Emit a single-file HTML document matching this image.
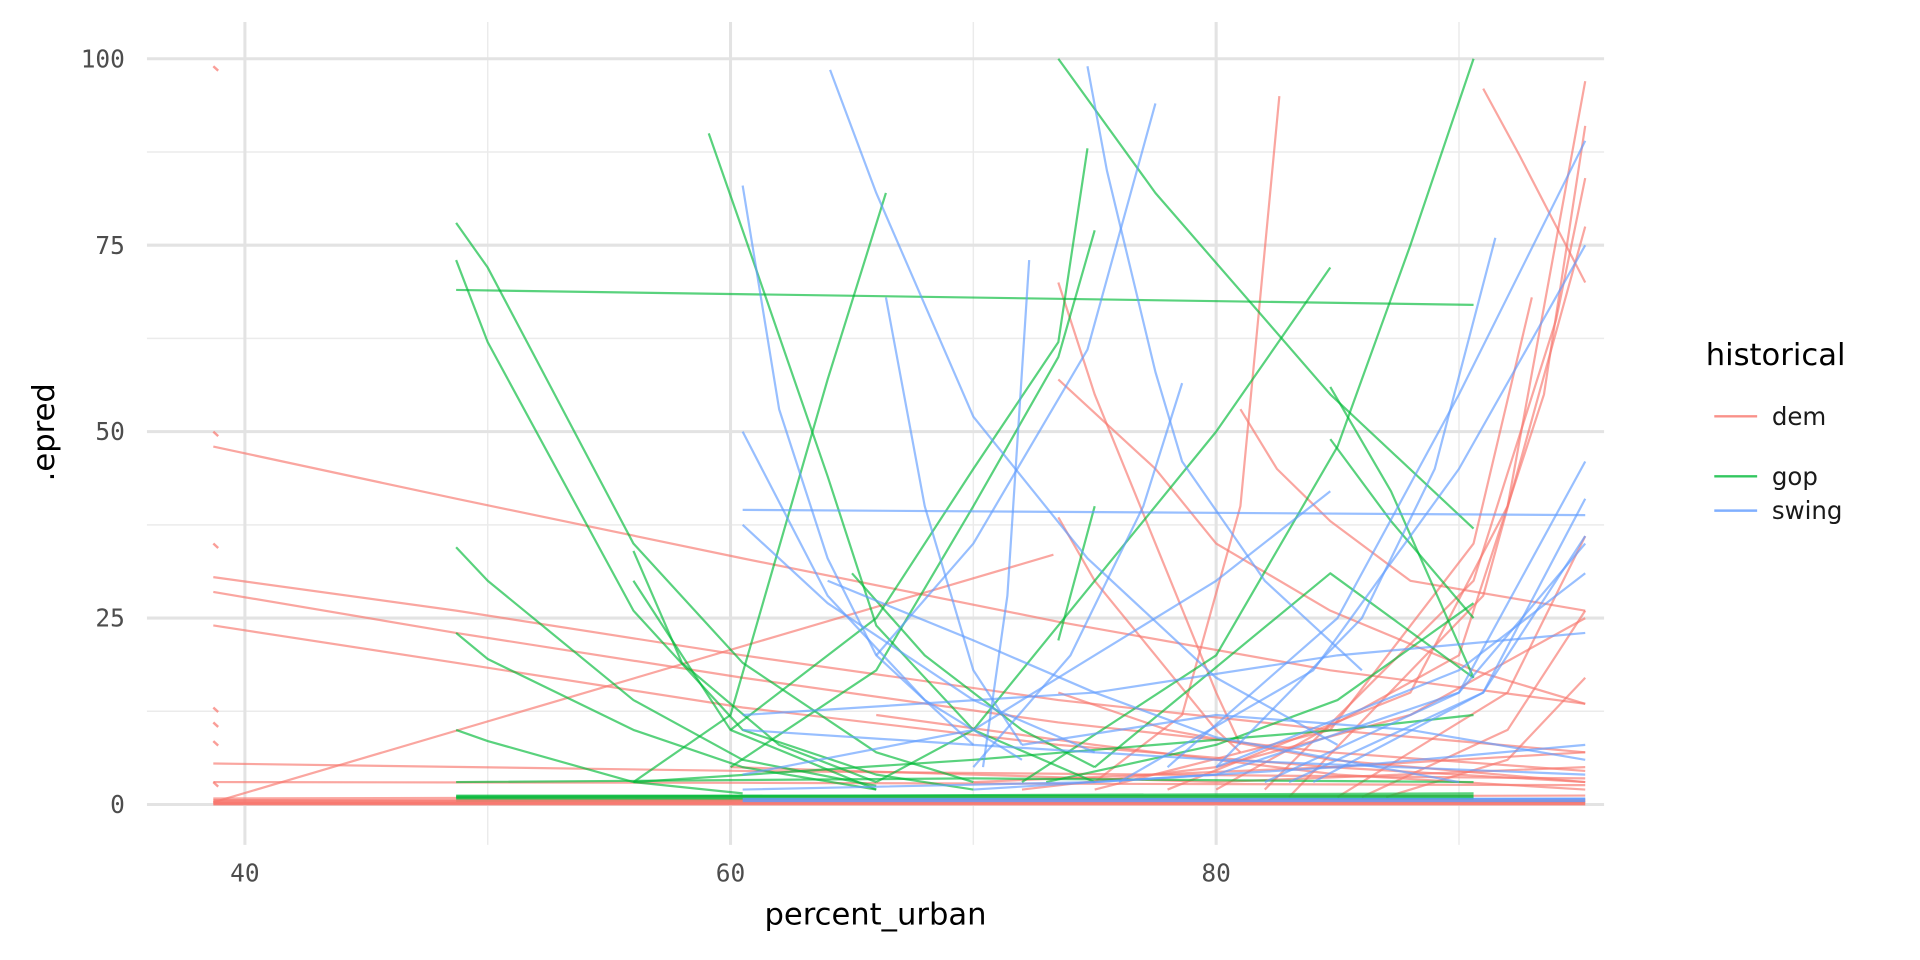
<!DOCTYPE html>
<html><head><meta charset="utf-8">
<style>
html,body{margin:0;padding:0;background:#fff;}
svg{display:block;}
.tick{font-family:"DejaVu Sans Mono","Liberation Mono",monospace;font-size:20px;fill:#4d4d4d;}
.title{font-family:"DejaVu Sans","Liberation Sans",sans-serif;font-size:25px;fill:#000;}
.leg{font-family:"DejaVu Sans","Liberation Sans",sans-serif;font-size:20px;fill:#1a1a1a;}
</style></head>
<body>
<svg id="chart" width="1920" height="960" viewBox="0 0 1568 784">
  <g id="grid"></g>
  <g id="lines"></g>
  <g id="axes"></g>
  <text class="title" x="715" y="755" text-anchor="middle">percent_urban</text>
  <text class="title" transform="translate(44,353) rotate(-90)" text-anchor="middle">.epred</text>
  <g>
    <text class="title" x="1393" y="298">historical</text>
    <g><line x1="1400" y1="340" x2="1435" y2="340" stroke="#F8766D" stroke-width="2" opacity="0.8"/><text class="leg" x="1447" y="347">dem</text></g>
    <g><line x1="1400" y1="389" x2="1435" y2="389" stroke="#00BA38" stroke-width="2" opacity="0.8"/><text class="leg" x="1447" y="396">gop</text></g>
    <g><line x1="1400" y1="417" x2="1435" y2="417" stroke="#619CFF" stroke-width="2" opacity="0.8"/><text class="leg" x="1447" y="424">swing</text></g>
  </g>
</svg>
<script>
const xTicks=[40,60,80];
const xMinor=[50,70,90];
const yTicks=[0,25,50,75,100];
const yMinor=[12.5,37.5,62.5,87.5];
const demLines=[
[[38.7,48],[48.7,41],[60.5,33],[73.5,24.5],[84.7,18],[95.2,13.5]],
[[38.7,30.5],[48.7,26],[60.5,20],[73.5,14],[84.7,10],[95.2,7]],
[[38.7,28.5],[48.7,23],[60.5,17],[73.5,11],[84.7,7],[95.2,4.5]],
[[38.7,24],[48.7,19],[60.5,13],[73.5,8],[84.7,5],[95.2,3]],
[[38.7,5.5],[60.5,4.5],[95.2,3.5]],
[[38.7,3],[60.5,2.9],[95.2,2.6]],
[[38.7,0.3],[73.3,33.5]],
[[73.5,70],[75,55],[77.5,35],[80,15],[81,8]],
[[73.5,57],[77.5,45],[80,35],[84.7,26],[90.6,18],[95.2,13.5]],
[[73.5,38.5],[75,30],[77.5,20],[80,10],[81,7]],
[[75,3],[78.6,12],[81,40],[82.6,95]],
[[91,96],[92.5,87],[95.2,70]],
[[81,53],[82.5,45],[84.7,38],[88,30],[95.2,26]],
[[75,2],[84.7,10],[90.6,35],[93,68]],
[[78,2],[88,15],[92,40],[95.2,97]],
[[80,2],[90,20],[93.5,55],[95.2,91]],
[[82,2],[90.6,30],[94,65],[95.2,84]],
[[83,1],[91,28],[95.2,77.5]],
[[85,1],[92,15],[95.2,36]],
[[86,1],[92,10],[95.2,26]],
[[87,1],[92,6],[95.2,17]],
[[70,3],[84.7,5],[95.2,7]],
[[66,12],[75,8],[85,4],[95.2,2]],
[[38.7,0.8],[95.2,1.2]],
[[38.7,0.2],[95.2,0.3]],
[[60,5],[70,4],[80,3],[95.2,5]],
[[73.5,15],[78,10],[84.7,6],[95.2,3]],
[[72,2],[80,5],[88,12],[95.2,25]]
];
const gopLines=[
[[48.7,69],[90.6,67]],
[[48.7,78],[50,72],[56,35],[60.5,19],[66,7],[70,3]],
[[48.7,73],[50,62],[56,26],[60.5,10],[66,4],[70,2]],
[[48.7,34.5],[50,30],[56,14],[60.5,6],[66,2.5]],
[[48.7,23],[50,19.5],[56,10],[60.5,5],[66,2]],
[[48.7,10],[50,8.5],[56,3],[60.5,1.5]],
[[48.7,3],[70,3.5],[90.6,3]],
[[59.1,90],[60.5,77],[64,44],[66,24],[70,10],[75,3]],
[[56,3],[60,12],[64,57],[66.4,82]],
[[73.5,100],[77.5,82],[84.7,55],[90.6,37]],
[[60,10],[66,25],[70,45],[73.5,62],[74.7,88]],
[[60,5],[66,18],[70,40],[73.5,60],[75,77]],
[[66,3],[70,10],[75,30],[80,50],[84.7,72]],
[[72,3],[80,20],[85,48],[88,75],[90.6,100]],
[[84.7,56],[87.2,42],[90.6,17]],
[[84.7,49],[87.2,38],[90.6,25]],
[[56,30],[60,10],[66,2]],
[[56,34],[58,19],[62,8],[66,3]],
[[73.5,22],[75,40]],
[[65,31],[68,20],[72,10],[75,5]],
[[73,3],[80,8],[85,14],[90.6,27]],
[[75,5],[84.7,31],[90.6,17]],
[[48.7,1],[90.6,1.5]],
[[48.7,0.5],[90.6,0.7]],
[[56,3],[70,6],[85,10],[90.6,12]]
];
const swingLines=[
[[60.5,83],[62,53],[64,33],[66,20],[70,8]],
[[60.5,50],[64,28],[68,14],[72,6]],
[[60.5,39.5],[95.2,38.8]],
[[60.5,37.5],[64,27],[70,14],[75,7]],
[[64.1,98.5],[66,82],[70,52],[74.7,33],[80,17],[85,8]],
[[66.4,68],[68,40],[70,18],[72,8]],
[[70.4,5],[71.4,28],[72.3,73]],
[[74.7,99],[75.5,85],[77.5,58],[78.6,46],[82,30],[86,18]],
[[66,20],[70,35],[74.7,61],[77.5,94]],
[[70,5],[74,20],[77,40],[78.6,56.5]],
[[80,5],[86,25],[89,45],[91.5,76]],
[[78,5],[85,25],[90,55],[95.2,89]],
[[76,3],[84,18],[90,45],[95.2,75]],
[[82,3],[90,15],[95.2,46]],
[[83,3],[91,15],[95.2,41]],
[[84,3],[91,15],[95.2,36]],
[[80,5],[90,18],[95.2,31]],
[[60.5,12],[75,15],[85,20],[95.2,23]],
[[60.5,10],[70,8],[80,6],[95.2,4]],
[[60.5,4],[70,10],[75,20],[80,30],[84.7,42]],
[[64,30],[70,22],[75,15],[80,9],[90,3]],
[[60.5,0.5],[95.2,0.8]],
[[60.5,2],[75,3],[85,5],[95.2,8]],
[[70,2],[80,4],[90,15],[95.2,35]],
[[72,8],[80,12],[88,10],[95.2,6]]
];
const stubs=[99,50,35,13,11,8.5,3];

const X0=40,PX0=200,PXU=19.83,PY0=657,PYU=6.09;
function sx(v){return PX0+(v-X0)*PXU;}
function sy(v){return PY0-v*PYU;}
const NS="http://www.w3.org/2000/svg";
const grid=document.getElementById('grid'),lines=document.getElementById('lines'),axes=document.getElementById('axes');
function mk(tag,attrs,parent){const e=document.createElementNS(NS,tag);for(const k in attrs)e.setAttribute(k,attrs[k]);parent.appendChild(e);return e;}
xMinor.forEach(v=>{const l=mk('line',{x1:sx(v),x2:sx(v),y1:18,y2:690,stroke:'#ebebeb','stroke-width':1.2},grid);

});
yMinor.forEach(v=>{const l=mk('line',{x1:120,x2:1310,y1:sy(v),y2:sy(v),stroke:'#ebebeb','stroke-width':1.2},grid);

});
xTicks.forEach(v=>{const l=mk('line',{x1:sx(v),x2:sx(v),y1:18,y2:690,stroke:'#e3e3e3','stroke-width':2.5},grid);


const t=mk('text',{x:sx(v),y:720,'text-anchor':'middle',class:'tick'},axes);t.textContent=v;

});
yTicks.forEach(v=>{const l=mk('line',{x1:120,x2:1310,y1:sy(v),y2:sy(v),stroke:'#e3e3e3','stroke-width':2.5},grid);


const t=mk('text',{x:102,y:sy(v)+7,'text-anchor':'end',class:'tick'},axes);t.textContent=v;

});
function draw(set,color,name){set.forEach(pts=>{const d=pts.map((p,i)=>(i?'L':'M')+sx(p[0]).toFixed(1)+','+sy(p[1]).toFixed(1)).join('');
const p=mk('path',{d:d,fill:'none',stroke:color,'stroke-width':1.8,opacity:0.65,'stroke-linejoin':'round'},lines);

});}
draw(demLines,'#F8766D','dem-line');
draw(gopLines,'#00BA38','gop-line');
draw(swingLines,'#619CFF','swing-line');
stubs.forEach(v=>{const p=mk('line',{x1:sx(38.7),x2:sx(38.9),y1:sy(v),y2:sy(v-0.6),stroke:'#F8766D','stroke-width':2,opacity:0.7},lines);

});
const b1=mk('line',{x1:sx(38.7),x2:sx(95.2),y1:sy(0.3),y2:sy(0.3),stroke:'#F8766D','stroke-width':5,opacity:0.9},lines);


const b2=mk('line',{x1:sx(48.7),x2:sx(90.6),y1:sy(1),y2:sy(1),stroke:'#00BA38','stroke-width':4,opacity:0.8},lines);


const b3=mk('line',{x1:sx(60.5),x2:sx(95.2),y1:sy(0.6),y2:sy(0.6),stroke:'#619CFF','stroke-width':3.5,opacity:0.8},lines);


</script>
</body></html>
